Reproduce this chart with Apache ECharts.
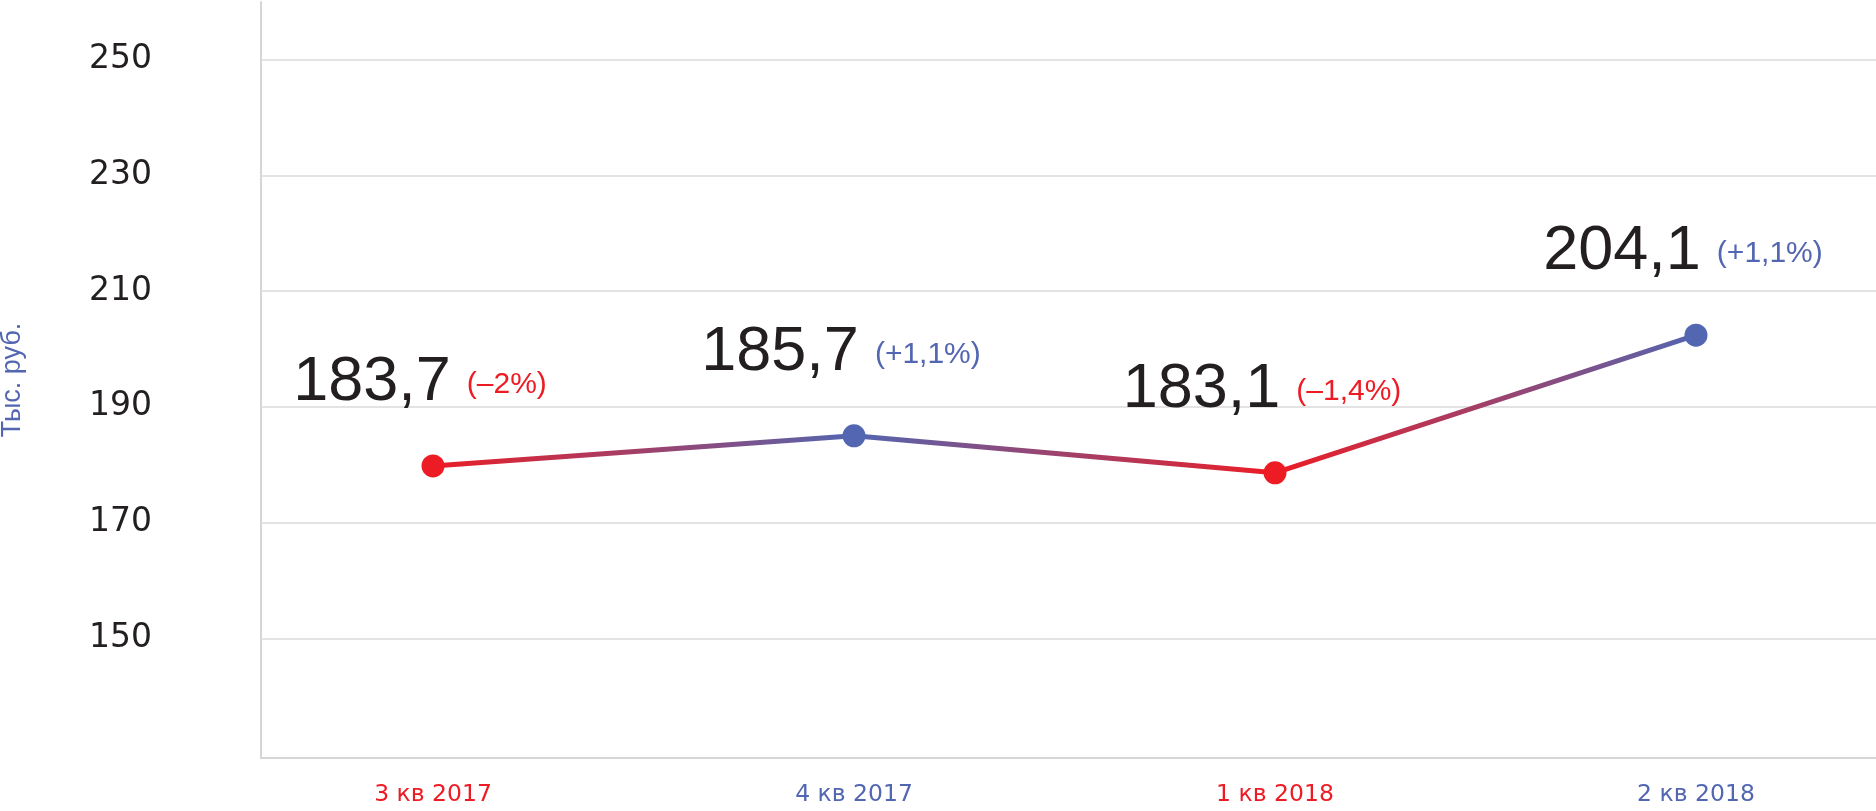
<!DOCTYPE html>
<html>
<head>
<meta charset="utf-8">
<script src="https://cdn.jsdelivr.net/npm/echarts@6/dist/echarts.min.js"></script>
<style>
html,body{margin:0;padding:0;background:#fff;}
#chart{width:1876px;height:811px;}
</style>
</head>
<body>
<div id="chart"></div>
<script>
const categories = ['3 кв 2017', '4 кв 2017', '1 кв 2018', '2 кв 2018'];
const values = [179.8, 185.0, 178.6, 202.4];
const valueLabels = ['183,7', '185,7', '183,1', '204,1'];
const changeLabels = ['(–2%)', '(+1,1%)', '(–1,4%)', '(+1,1%)'];
const changeSigns = [-1, 1, -1, 1];
const yTicks = [150, 170, 190, 210, 230, 250];

const RED = '#ED1C24';
const BLUE = '#5266B1';
const colorOf = i => changeSigns[i] < 0 ? RED : BLUE;

const chart = echarts.init(document.getElementById('chart'), null, {renderer: 'canvas'});

const seriesData = values.map((v, i) => ({
  value: [i, v],
  itemStyle: {color: colorOf(i)},
  label: {
    formatter: '{a|' + valueLabels[i] + '}{' + (changeSigns[i] < 0 ? 'n' : 'p') + '|' + changeLabels[i] + '}'
  }
}));

const smallStyle = c => ({
  fontFamily: 'Liberation Sans',
  fontSize: 30,
  color: c,
  padding: [4, 0, 0, 16]
});

chart.setOption({
  animation: false,
  backgroundColor: '#ffffff',
  grid: {left: 261, right: 0, top: 2, bottom: 53, containLabel: false, outerBoundsMode: 'none'},
  xAxis: {
    type: 'value',
    min: -0.4086,
    max: 3.4276,
    axisLine: {show: true, onZero: false, lineStyle: {color: '#d6d6d6', width: 2}},
    axisTick: {show: false},
    splitLine: {show: false},
    axisLabel: {
      customValues: categories.map((c, i) => i),
      margin: 25,
      formatter: v => '{' + (changeSigns[v] < 0 ? 'n' : 'p') + '|' + categories[v] + '}',
      rich: {
        n: {fontFamily: 'DejaVu Sans', fontSize: 23.5, color: RED},
        p: {fontFamily: 'DejaVu Sans', fontSize: 23.5, color: BLUE}
      }
    }
  },
  yAxis: {
    type: 'value',
    min: 129.3,
    max: 260.0,
    name: 'Тыс. руб.',
    nameLocation: 'middle',
    nameGap: 235,
    nameTextStyle: {fontFamily: 'Liberation Sans', fontSize: 27, color: BLUE},
    axisLine: {show: true, onZero: false, lineStyle: {color: '#d6d6d6', width: 2}},
    axisTick: {show: false},
    splitLine: {show: false},
    axisLabel: {
      customValues: yTicks,
      align: 'left',
      margin: 172,
      padding: [0, 0, 10, 0],
      fontFamily: 'DejaVu Sans',
      fontSize: 33,
      color: '#231f20'
    }
  },
  series: [{
    type: 'line',
    z: 3,
    data: seriesData,
    symbol: 'circle',
    symbolSize: 23,
    lineStyle: {
      width: 5,
      color: new echarts.graphic.LinearGradient(0, 0, 1, 0, [
        {offset: 0, color: RED},
        {offset: 1 / 3, color: BLUE},
        {offset: 2 / 3, color: RED},
        {offset: 1, color: BLUE}
      ])
    },
    label: {
      show: true,
      position: 'top',
      distance: 41,
      offset: [-13, 0],
      rich: {
        a: {fontFamily: 'Liberation Sans', fontSize: 63, color: '#231f20', lineHeight: 62},
        n: smallStyle(RED),
        p: smallStyle(BLUE)
      }
    },
    markLine: {
      silent: true,
      z: 1,
      symbol: 'none',
      label: {show: false},
      lineStyle: {type: 'solid', color: '#dadada', width: 1.5},
      data: yTicks.map(v => ({yAxis: v}))
    }
  }]
});
</script>
</body>
</html>
